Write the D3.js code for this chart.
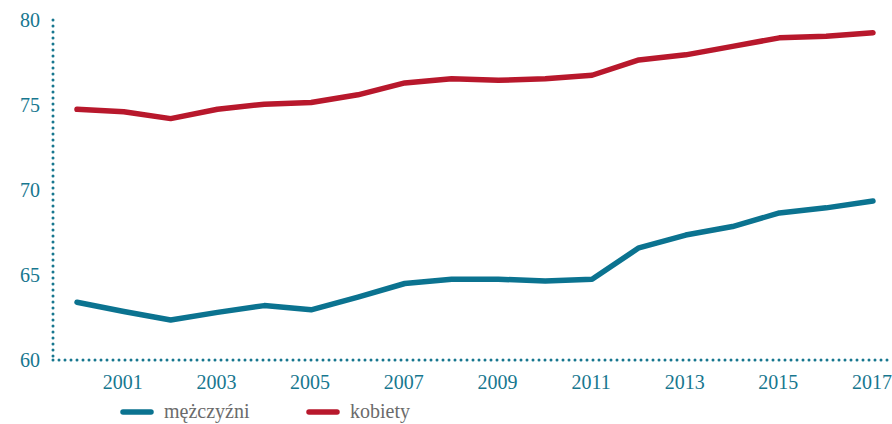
<!DOCTYPE html>
<html>
<head>
<meta charset="utf-8">
<script src="https://cdn.jsdelivr.net/npm/d3@7"></script>
<style>
    body { margin: 0; background: #fff; }
    svg { display: block; font-family: 'Liberation Serif', 'DejaVu Serif', serif; }
</style>
</head>
<body>
<div id="chart"></div>
<script>
const years = d3.range(2000, 2018);
const men = [63.4, 62.85, 62.35, 62.8, 63.2, 62.95, 63.7, 64.5, 64.75, 64.75, 64.65, 64.75, 66.6, 67.35, 67.85, 68.65, 68.95, 69.35];
const women = [74.75, 74.6, 74.2, 74.75, 75.05, 75.15, 75.6, 76.3, 76.55, 76.45, 76.55, 76.75, 77.65, 77.95, 78.45, 78.95, 79.05, 79.25];
const yTicks = [60, 65, 70, 75, 80];
const xTicks = [2001, 2003, 2005, 2007, 2009, 2011, 2013, 2015, 2017];
const seriesNames = ['mężczyźni', 'kobiety'];

const WIDTH = 892;
const HEIGHT = 424;
const AXIS_COLOR = '#17778f';
const COLORS = ['#0b7390', '#b8182c'];

const svg = d3.select('#chart').append('svg')
    .attr('width', WIDTH)
    .attr('height', HEIGHT);

const x = d3.scaleLinear()
    .domain([2000, 2017])
    .range([77, 873]);

const y = d3.scaleLinear()
    .domain([60, 80])
    .range([360, 20]);

// dotted axes
svg.append('line')
    .attr('x1', 53).attr('x2', 53)
    .attr('y1', y(80)).attr('y2', y(60))
    .attr('stroke', AXIS_COLOR)
    .attr('stroke-width', 3)
    .attr('stroke-linecap', 'round')
    .attr('stroke-dasharray', '0 6');

svg.append('line')
    .attr('x1', 53).attr('x2', WIDTH)
    .attr('y1', y(60)).attr('y2', y(60))
    .attr('stroke', AXIS_COLOR)
    .attr('stroke-width', 3)
    .attr('stroke-linecap', 'round')
    .attr('stroke-dasharray', '0 6');

svg.append('g')
    .selectAll('text')
    .data(yTicks)
    .join('text')
    .attr('x', 40)
    .attr('y', d => y(d))
    .attr('dy', '0.35em')
    .attr('text-anchor', 'end')
    .attr('font-size', 20)
    .attr('fill', AXIS_COLOR)
    .text(d => d);

svg.append('g')
    .selectAll('text')
    .data(xTicks)
    .join('text')
    .attr('x', d => x(d) - 1)
    .attr('y', 389)
    .attr('text-anchor', 'middle')
    .attr('font-size', 20)
    .attr('fill', AXIS_COLOR)
    .text(d => d);

const line = d3.line()
    .x((d, i) => x(years[i]))
    .y(d => y(d));

[men, women].forEach((values, i) => {
    svg.append('path')
        .attr('d', line(values))
        .attr('fill', 'none')
        .attr('stroke', COLORS[i])
        .attr('stroke-width', 5.5)
        .attr('stroke-linecap', 'round')
        .attr('stroke-linejoin', 'round');
});

// legend
const legendX = [123, 309];
seriesNames.forEach((name, i) => {
    const g = svg.append('g').attr('transform', `translate(${legendX[i]}, 412)`);
    g.append('line')
        .attr('x1', 0).attr('x2', 28)
        .attr('stroke', COLORS[i])
        .attr('stroke-width', 5.5)
        .attr('stroke-linecap', 'round');
    g.append('text')
        .attr('x', 41)
        .attr('dy', '0.32em')
        .attr('font-size', 20)
        .attr('fill', '#6b6b6b')
        .text(name);
});
</script>
</body>
</html>
